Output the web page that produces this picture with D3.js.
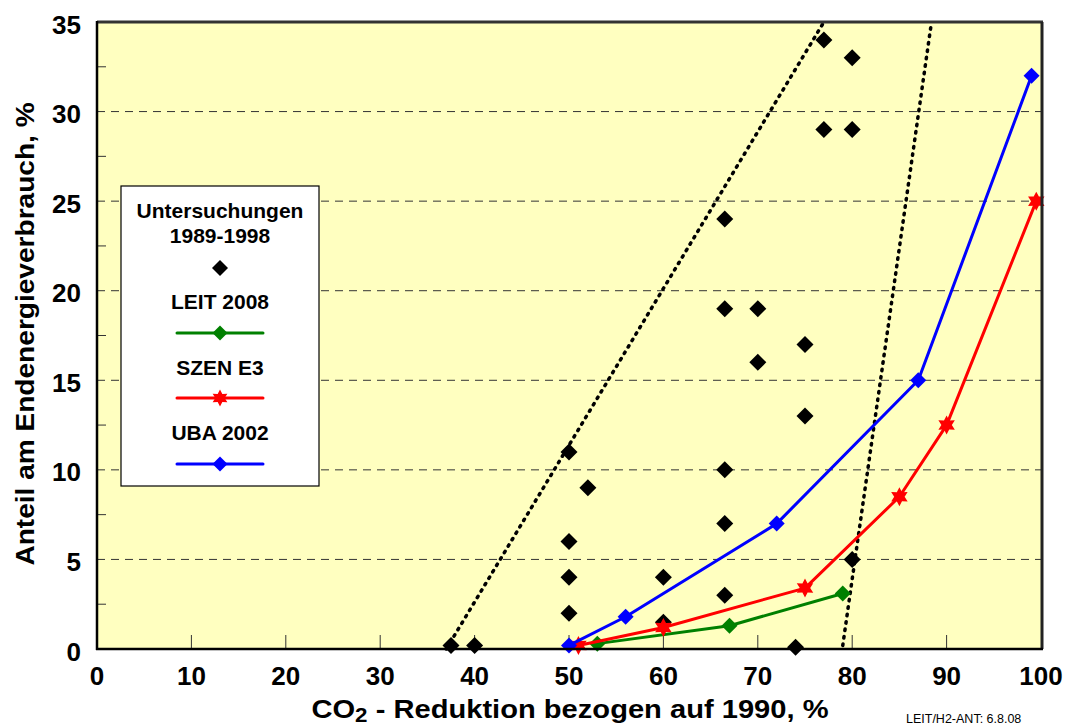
<!DOCTYPE html>
<html><head><meta charset="utf-8">
<script src="https://cdn.jsdelivr.net/npm/d3@7"></script>
<style>body{margin:0;background:#fff;} text{font-family:"Liberation Sans",Arial,sans-serif;}</style>
</head><body>
<svg id="c" width="1068" height="727"></svg>
<script>
const xTicks = [0,10,20,30,40,50,60,70,80,90,100];
const yTicks = [0,5,10,15,20,25,30,35];
const studiesX = [37.5,40,50,50,50,50,52,60,60,66.5,66.5,66.5,66.5,66.5,70,70,77,80,77,80,75,75,80,74];
const studiesY = [0.2,0.2,11,6,4,2,9,4,1.5,24,19,10,7,3,19,16,34,33,29,29,17,13,5,0.1];
const leitX = [53,67,79];
const leitY = [0.3,1.3,3.1];
const szenX = [51,60,75,85,90,99.5];
const szenY = [0.2,1.2,3.4,8.5,12.5,25];
const ubaX = [50,56,72,87,99];
const ubaY = [0.2,1.8,7,15,32];
const trend1X = [37,77], trend1Y = [0,35];
const trend2X = [79,88.4], trend2Y = [0.2,35];

const svg = d3.select("#c");
const L=97,R=1041,T=22,B=649;
const x = d3.scaleLinear().domain([0,100]).range([L,R]);
const y = d3.scaleLinear().domain([0,35]).range([B,T]);

svg.append("rect").attr("x",L).attr("y",T).attr("width",R-L).attr("height",B-T).attr("fill","#FFFFC0");

// gridlines
svg.append("g").selectAll("line").data(yTicks.filter(v=>v>0&&v<35)).join("line")
  .attr("x1",L).attr("x2",R).attr("y1",d=>y(d)).attr("y2",d=>y(d))
  .attr("stroke","#333").attr("stroke-width",1).attr("stroke-dasharray","8,6");

// minor y ticks
const minor = d3.range(2.5,35,5);
svg.append("g").selectAll("line").data(minor).join("line")
  .attr("x1",L).attr("x2",L+9).attr("y1",d=>y(d)).attr("y2",d=>y(d)).attr("stroke","#333").attr("stroke-width",1);

// x ticks inward
svg.append("g").selectAll("line").data(xTicks.filter(v=>v>0&&v<100)).join("line")
  .attr("x1",d=>x(d)).attr("x2",d=>x(d)).attr("y1",B).attr("y2",B-14).attr("stroke","#333").attr("stroke-width",1);

// trend dotted lines
function dotted(xs,ys){
  svg.append("line").attr("x1",x(xs[0])).attr("y1",y(ys[0])).attr("x2",x(xs[1])).attr("y2",y(ys[1]))
    .attr("stroke","#000").attr("stroke-width",3.5).attr("stroke-linecap","round").attr("stroke-dasharray","1.5,6");
}
dotted(trend1X,trend1Y);
dotted(trend2X,trend2Y);

function diamondPath(s){ return `M0,${-s}L${s},0L0,${s}L${-s},0Z`; }
function starPath(r){
  let p=[];
  for(let i=0;i<12;i++){const a=Math.PI/6*i - Math.PI/2; const rr = i%2? r*0.55 : r; p.push([rr*Math.cos(a), rr*Math.sin(a)]);}
  return "M"+p.map(q=>q[0].toFixed(2)+","+q[1].toFixed(2)).join("L")+"Z";
}

// studies
svg.append("g").selectAll("path").data(studiesX.map((v,i)=>[v,studiesY[i]])).join("path")
  .attr("d",diamondPath(8.5)).attr("transform",d=>`translate(${x(d[0])},${y(d[1])})`).attr("fill","#000");

const line = d3.line().x(d=>x(d[0])).y(d=>y(d[1]));
function series(xs,ys,color,marker){
  const pts = xs.map((v,i)=>[v,ys[i]]);
  svg.append("path").datum(pts).attr("d",line).attr("fill","none").attr("stroke",color).attr("stroke-width",3).attr("stroke-linejoin","round");
  svg.append("g").selectAll("path").data(pts).join("path").attr("d",marker)
    .attr("transform",d=>`translate(${x(d[0])},${y(d[1])})`).attr("fill",color);
}
series(leitX,leitY,"#008000",diamondPath(8));
series(szenX,szenY,"#FF0000",starPath(9.5));
series(ubaX,ubaY,"#0000FF",diamondPath(8));

// borders
svg.append("line").attr("x1",L).attr("x2",R+2).attr("y1",T).attr("y2",T).attr("stroke","#333").attr("stroke-width",3);
svg.append("line").attr("x1",R+1).attr("x2",R+1).attr("y1",T).attr("y2",B).attr("stroke","#222").attr("stroke-width",3);
svg.append("line").attr("x1",L).attr("x2",L).attr("y1",T-1).attr("y2",B+1).attr("stroke","#000").attr("stroke-width",2.5);
svg.append("line").attr("x1",L-1).attr("x2",R+2).attr("y1",B).attr("y2",B).attr("stroke","#000").attr("stroke-width",2.5);

// tick labels
svg.append("g").selectAll("text").data(xTicks).join("text")
  .attr("x",d=>x(d)).attr("y",685).attr("text-anchor","middle").attr("font-size",26).attr("font-weight","bold").text(d=>d);
svg.append("g").selectAll("text").data(yTicks).join("text")
  .attr("x",81).attr("y",d=>y(d)+11.5).attr("text-anchor","end").attr("font-size",26).attr("font-weight","bold").text(d=>d);

// axis titles
const xt = svg.append("text").attr("transform","translate(570,718) scale(1.12,1)").attr("text-anchor","middle").attr("font-size",26).attr("font-weight","bold");
xt.append("tspan").text("CO");
xt.append("tspan").attr("dy",4).attr("font-size",20).text("2");
xt.append("tspan").attr("dy",-4).text(" - Reduktion bezogen auf 1990, %");
svg.append("text").attr("transform","translate(34,334) rotate(-90) scale(1.08,1)").attr("text-anchor","middle")
  .attr("font-size",26).attr("font-weight","bold").text("Anteil am Endenergieverbrauch, %");

svg.append("text").attr("x",906).attr("y",723).attr("font-size",12.5).attr("fill","#000").text("LEIT/H2-ANT: 6.8.08");

// legend
const lg = svg.append("g");
lg.append("rect").attr("x",121).attr("y",186).attr("width",198).attr("height",300).attr("fill","#fff").attr("stroke","#000").attr("stroke-width",1.2);
const cx=220;
const lt = (t,yy)=>lg.append("text").attr("transform",`translate(${cx},${yy}) scale(1.05,1)`).attr("text-anchor","middle").attr("font-size",20).attr("font-weight","bold").text(t);
lt("Untersuchungen",218); lt("1989-1998",243);
lg.append("path").attr("d",diamondPath(8)).attr("transform",`translate(${cx},268)`).attr("fill","#000");
const items=[["LEIT 2008","#008000",diamondPath(7.5),309,333],["SZEN E3","#FF0000",starPath(8.5),375,398],["UBA 2002","#0000FF",diamondPath(7.5),440,464]];
items.forEach(it=>{
  lt(it[0],it[3]);
  lg.append("line").attr("x1",177).attr("x2",263).attr("y1",it[4]).attr("y2",it[4]).attr("stroke",it[1]).attr("stroke-width",3).attr("stroke-linecap","round");
  lg.append("path").attr("d",it[2]).attr("transform",`translate(${cx},${it[4]})`).attr("fill",it[1]);
});
</script>
</body></html>
